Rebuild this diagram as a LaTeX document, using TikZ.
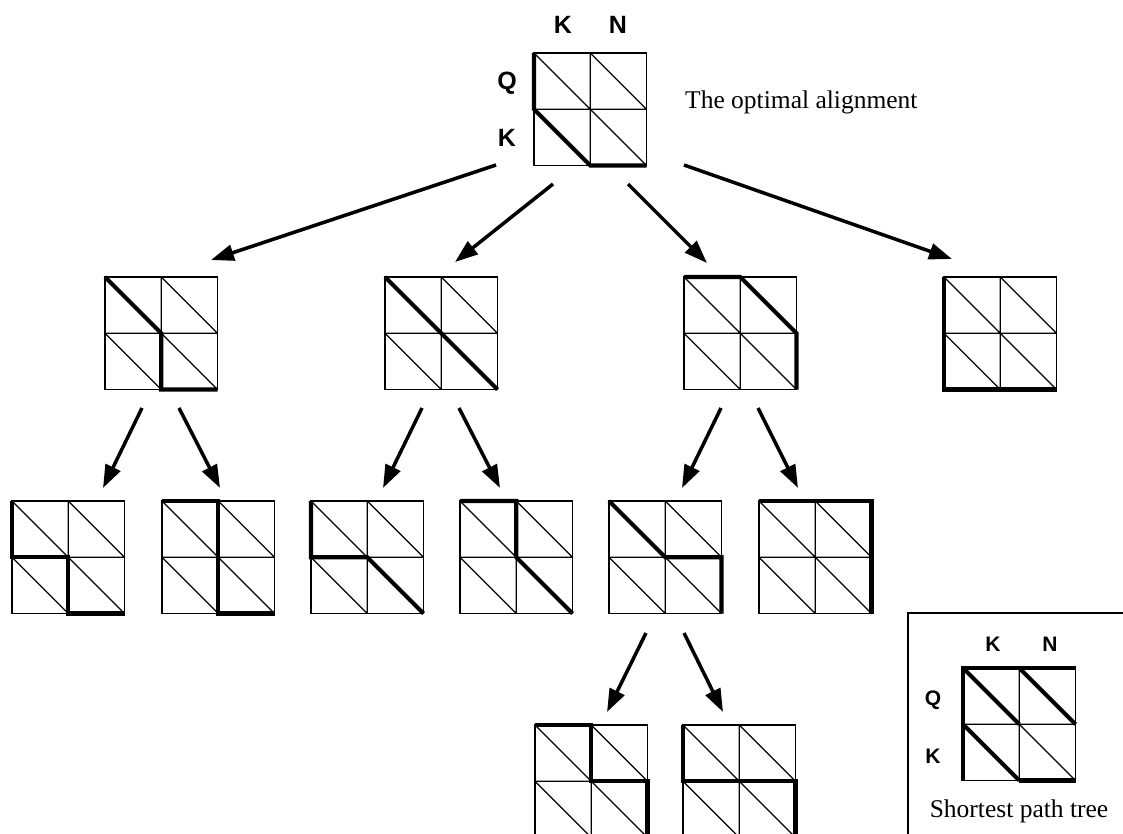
\documentclass[tikz,border=0pt]{standalone}
\usepackage{fontspec}
\setmainfont{Liberation Serif}
\setsansfont{Liberation Sans}
\newfontfamily\labfont{Liberation Sans Bold}
\usetikzlibrary{arrows.meta}
\tikzset{
  gridbox/.style={draw, line width=1.2pt, minimum size=112.5pt, inner sep=0pt, outer sep=0pt, anchor=north west},
  thinline/.style={line width=1.2pt},
  pathline/.style={line width=4.2pt},
  arr/.style={line width=3.5pt, -{Triangle[length=23pt,width=16pt]}},
  lab/.style={font=\labfont\fontsize{25}{25}\selectfont, inner sep=0pt, anchor=base},
  leglab/.style={font=\labfont\fontsize{21}{21}\selectfont, inner sep=0pt, anchor=base},
  captext/.style={font=\fontsize{25.5}{25.5}\selectfont, inner sep=0pt},
}
\newcommand{\dpgrid}[3]{%
  \node[gridbox] (#1) at (#2,#3) {};
  \draw[thinline] (#1.north) -- (#1.south) (#1.west) -- (#1.east)
    (#1.north west) -- (#1.south east) (#1.north) -- (#1.east) (#1.west) -- (#1.south);
}
\begin{document}
\begin{tikzpicture}[x=1pt,y=-1pt]
\useasboundingbox (0,0) rectangle (1123,834);
\clip (0,0) rectangle (1123,834);
% grids
\dpgrid{g0}{534}{53}
\dpgrid{ga}{105}{277}
\dpgrid{gb}{385}{277}
\dpgrid{gc}{684}{277}
\dpgrid{gd}{944}{277}
\dpgrid{ge}{12}{501}
\dpgrid{gf}{162}{501}
\dpgrid{gg}{311}{501}
\dpgrid{gh}{460}{501}
\dpgrid{gi}{609}{501}
\dpgrid{gj}{759}{501}
\dpgrid{gk}{535}{725}
\dpgrid{gl}{683}{725}
\dpgrid{gm}{963}{668}
% thick paths
\draw[pathline] (g0.north west) -- (g0.west) -- (g0.south) -- (g0.south east);
\draw[pathline] (ga.north west) -- (ga.center) -- (ga.south) -- (ga.south east);
\draw[pathline] (gb.north west) -- (gb.south east);
\draw[pathline] (gc.north west) -- (gc.north) -- (gc.east) -- (gc.south east);
\draw[pathline] (gd.north west) -- (gd.south west) -- (gd.south east);
\draw[pathline] (ge.north west) -- (ge.west) -- (ge.center) -- (ge.south) -- (ge.south east);
\draw[pathline] (gf.north west) -- (gf.north) -- (gf.south) -- (gf.south east);
\draw[pathline] (gg.north west) -- (gg.west) -- (gg.center) -- (gg.south east);
\draw[pathline] (gh.north west) -- (gh.north) -- (gh.center) -- (gh.south east);
\draw[pathline] (gi.north west) -- (gi.center) -- (gi.east) -- (gi.south east);
\draw[pathline] (gj.north west) -- (gj.north east) -- (gj.south east);
\draw[pathline] (gk.north west) -- (gk.north) -- (gk.center) -- (gk.east) -- (gk.south east);
\draw[pathline] (gl.north west) -- (gl.west) -- (gl.east) -- (gl.south east);
\draw[pathline] (gm.south west) -- (gm.north west) -- (gm.north east);
\draw[pathline] (gm.north west) -- (gm.center);
\draw[pathline] (gm.north) -- (gm.east);
\draw[pathline] (gm.west) -- (gm.south);
\draw[pathline] (gm.south) -- (gm.south east);
% labels
\node[lab] (lk1) at (563,34) {K};
\node[lab] (ln1) at (618,34) {N};
\node[lab] (lq1) at (507,90) {Q};
\node[lab] (lk2) at (507,147) {K};
\node[captext, anchor=base west] (title) at (685,109) {The optimal alignment};
% legend
\draw[thinline] (908,840) -- (908,613) -- (1130,613);
\node[leglab] (mk1) at (993,651) {K};
\node[leglab] (mn1) at (1050,651) {N};
\node[leglab] (mq1) at (933,705) {Q};
\node[leglab] (mk2) at (933,763) {K};
\node[captext, anchor=base] (legtxt) at (1019,817) {Shortest path tree};
% arrow end points
\coordinate (s1) at (496,165); \coordinate (t1) at (211,260);
\coordinate (s2) at (553,184); \coordinate (t2) at (455,262);
\coordinate (s3) at (628,184); \coordinate (t3) at (707,263);
\coordinate (s4) at (684,165); \coordinate (t4) at (952,259);
\coordinate (sa1) at (142,408); \coordinate (ta1) at (103,488);
\coordinate (sa2) at (179,408); \coordinate (ta2) at (220,488);
\coordinate (sb1) at (422,408); \coordinate (tb1) at (383,488);
\coordinate (sb2) at (459,408); \coordinate (tb2) at (500,488);
\coordinate (sc1) at (721,408); \coordinate (tc1) at (682,488);
\coordinate (sc2) at (758,408); \coordinate (tc2) at (798,488);
\coordinate (si1) at (646,633); \coordinate (ti1) at (607,712);
\coordinate (si2) at (684,633); \coordinate (ti2) at (723,712);
\foreach \a/\b in {s1/t1,s2/t2,s3/t3,s4/t4,sa1/ta1,sa2/ta2,sb1/tb1,sb2/tb2,sc1/tc1,sc2/tc2,si1/ti1,si2/ti2}
  \draw[arr] (\a) -- (\b);
\end{tikzpicture}
\end{document}
